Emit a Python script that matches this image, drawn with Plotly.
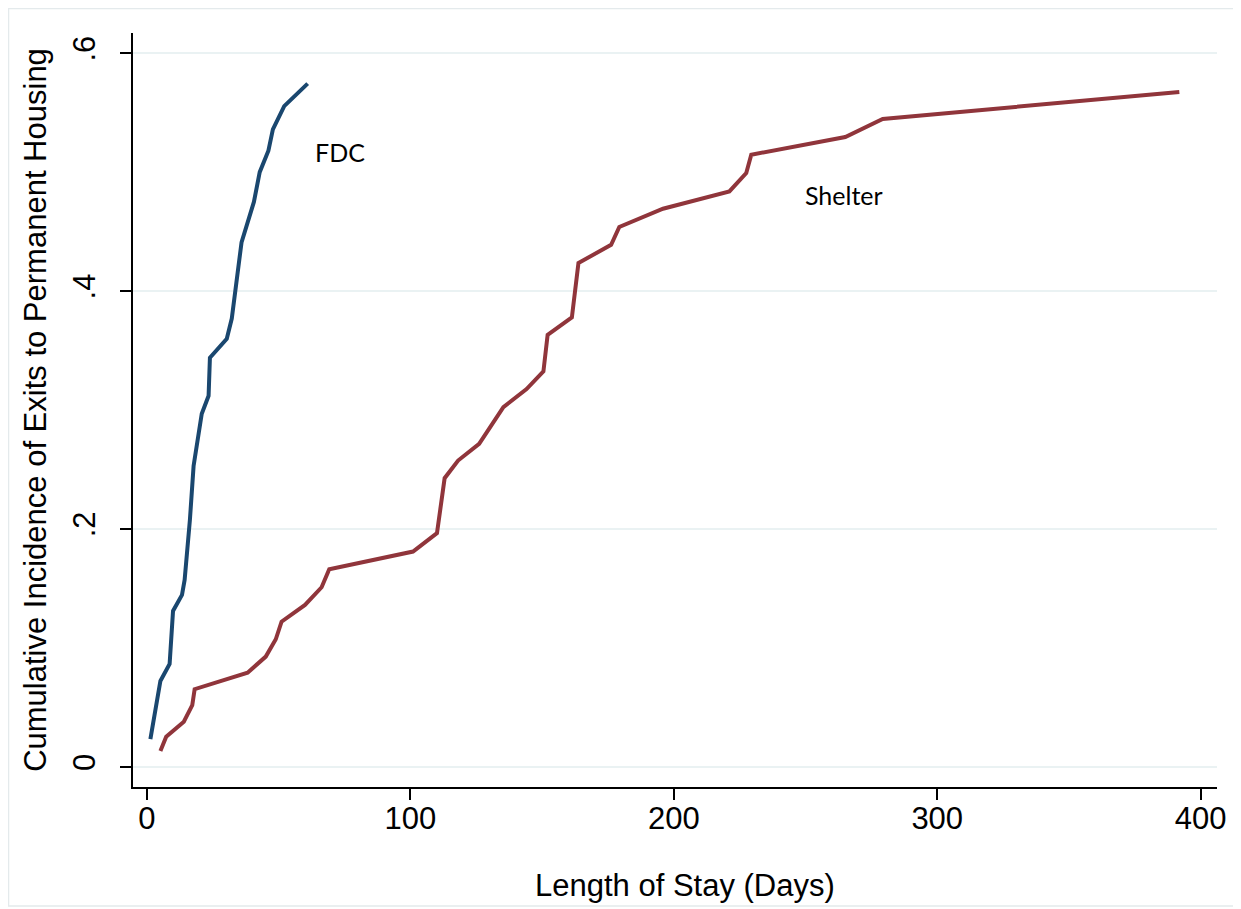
import plotly.graph_objects as go

# ---- data ----
fdc_days = [1.3, 5.1, 8.6, 9.9, 13.3, 14.3, 16.3, 17.0, 17.7, 20.8, 23.4, 23.9,
            30.3, 32.2, 35.9, 40.6, 42.8, 46.1, 47.8, 52.1, 61.0]
fdc_ci = [0.0235, 0.0723, 0.0866, 0.1312, 0.1447, 0.1573, 0.2077, 0.2347, 0.253,
          0.297, 0.312, 0.344, 0.360, 0.377, 0.441, 0.475, 0.500, 0.518, 0.536,
          0.5555, 0.5744]

shelter_days = [5.1, 7.3, 14.0, 17.2, 18.1, 38.2, 45.1, 48.9, 51.1, 60.0, 66.3,
                69.2, 101.0, 110.1, 113.0, 118.1, 126.1, 135.3, 144.1, 150.5,
                152.1, 161.3, 163.8, 176.2, 179.3, 195.9, 221.1, 227.5, 229.4,
                265.1, 279.3, 391.9]
shelter_ci = [0.0135, 0.0255, 0.0381, 0.0521, 0.0654, 0.0793, 0.0928, 0.1074,
              0.1222, 0.1362, 0.1511, 0.1663, 0.1811, 0.1966, 0.2428, 0.2576,
              0.2717, 0.3025, 0.3177, 0.3325, 0.3633, 0.3779, 0.4236, 0.4390,
              0.4539, 0.4693, 0.4839, 0.4993, 0.5147, 0.5296, 0.5447, 0.5675]

x_tick_vals = [0, 100, 200, 300, 400]
y_tick_vals = [0, 0.2, 0.4, 0.6]
y_tick_text = ["0", ".2", ".4", ".6"]

labels = [("FDC", 73.3, 0.517), ("Shelter", 264.5, 0.481)]

NAVY = "#1a476f"
MAROON = "#90353b"
GRID = "#eaf2f3"
AXFONT = "Liberation Sans, Arial, sans-serif"

fig = go.Figure()
fig.add_trace(go.Scatter(x=fdc_days, y=fdc_ci, mode="lines",
                         line=dict(color=NAVY, width=4), name="FDC"))
fig.add_trace(go.Scatter(x=shelter_days, y=shelter_ci, mode="lines",
                         line=dict(color=MAROON, width=4), name="Shelter"))

for txt, x, y in labels:
    fig.add_annotation(x=x, y=y, text=txt, showarrow=False,
                       font=dict(family="Lato, sans-serif", size=25, color="black"))

# plot area in figure pixels (page adds an 8px body margin)
L, R, T, B = 125, 1209, 25, 779
W, H = R - L, B - T
def px(x):
    return (x - L) / W
def py(y):
    return (B - y) / H

# x-axis title (placed as in the reference, slightly right of plot centre)
fig.add_annotation(xref="paper", yref="paper", x=px(677), y=py(877),
                   xanchor="center", yanchor="middle", showarrow=False,
                   text="Length of Stay (Days)",
                   font=dict(family=AXFONT, size=31, color="black"))

fig.add_shape(type="rect", xref="paper", yref="paper",
              x0=px(0.5), x1=px(1230), y0=py(898), y1=py(0.5),
              line=dict(color="#e4eaec", width=1.5), layer="below")

fig.update_layout(
    width=1241, height=909,
    margin=dict(l=L, r=1241 - R, t=T, b=909 - B, autoexpand=False),
    paper_bgcolor="white", plot_bgcolor="white",
    showlegend=False,
    font=dict(family=AXFONT, size=31, color="black"),
    xaxis=dict(range=[-5.3, 406.2], tickvals=x_tick_vals, automargin=False,
               showgrid=False, zeroline=False,
               showline=True, linecolor="black", linewidth=2,
               ticks="outside", ticklen=11, tickwidth=2, tickcolor="black",
               ticklabelstandoff=-8,
               tickfont=dict(family=AXFONT, size=31)),
    yaxis=dict(range=[-0.0168, 0.617], tickvals=y_tick_vals, ticktext=y_tick_text,
               tickangle=-90, automargin=False,
               showgrid=True, gridcolor=GRID, gridwidth=2, zeroline=False,
               showline=True, linecolor="black", linewidth=2,
               ticks="outside", ticklen=11, tickwidth=2, tickcolor="black",
               ticklabelstandoff=13,
               tickfont=dict(family=AXFONT, size=31),
               title=dict(text="Cumulative Incidence of Exits to Permanent Housing",
                          standoff=11, font=dict(family=AXFONT, size=31))),
)

fig.write_html("out.html")
